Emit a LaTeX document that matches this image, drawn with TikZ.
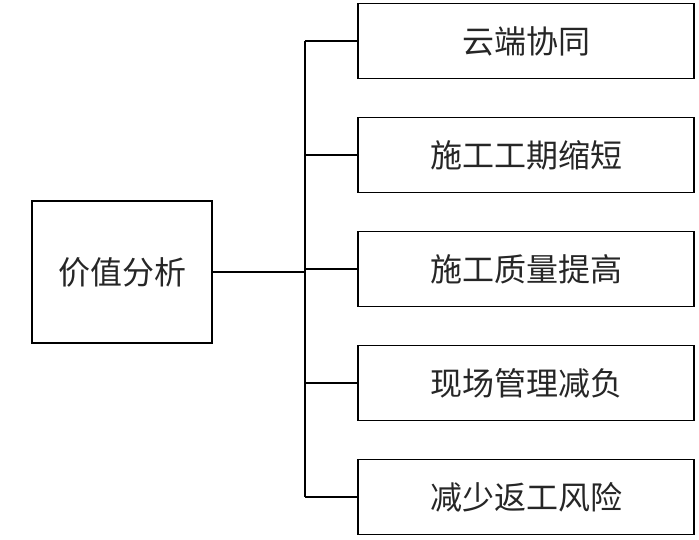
\documentclass[tikz,border=0pt]{standalone}
\usepackage{fontspec}
\newfontfamily\cjk{Noto Sans CJK SC}
\usetikzlibrary{positioning}

\begin{document}
\begin{tikzpicture}[x=1pt, y=-1pt, line width=1.4pt,
  box/.style={draw, text=black!85, font=\cjk\fontsize{32}{32}\selectfont, inner sep=0pt},
  item/.style={box, minimum width=336pt, minimum height=75pt}]
  \useasboundingbox (0,0) rectangle (699,539);
  \node[box, minimum width=180pt, minimum height=142pt] (value) at (122,272) {价值分析};
  \node[item] (cloud) at (526,41) {云端协同};
  \node[item, below=37.6pt of cloud] (period) {施工工期缩短};
  \node[item, below=37.6pt of period] (quality) {施工质量提高};
  \node[item, below=37.6pt of quality] (site) {现场管理减负};
  \node[item, below=37.6pt of site] (risk) {减少返工风险};
  \coordinate (trunk) at (305,0);
  \draw (value.east) -- (value.east -| trunk);
  \draw (cloud.west -| trunk) -- (risk.west -| trunk);
  \foreach \n in {cloud,period,quality,site,risk}
    \draw (\n.west) -- (\n.west -| trunk);
\end{tikzpicture}
\end{document}
